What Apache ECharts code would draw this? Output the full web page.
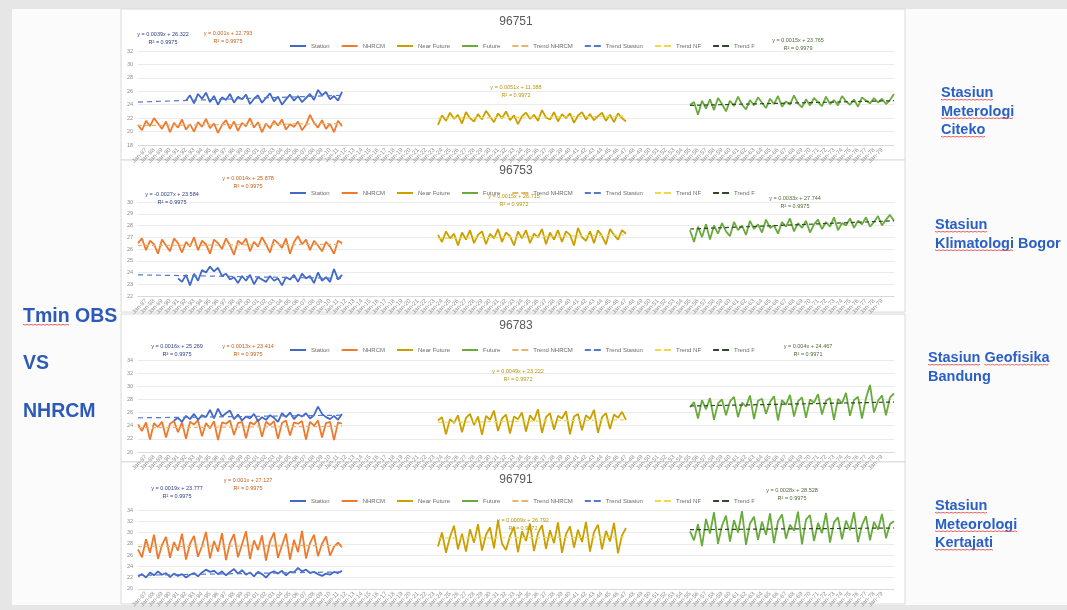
<!DOCTYPE html>
<html>
<head>
<meta charset="utf-8">
<script src="https://cdn.jsdelivr.net/npm/echarts@6/dist/echarts.min.js"></script>
<style>
  html, body { margin: 0; padding: 0; background: #e9e9e9; }
  #chart { width: 1067px; height: 610px; }
</style>
</head>
<body>
<div id="chart"></div>
<script>
// Period axis: half-year steps starting January 1986
const START_YEAR = 1986;
const PERIOD_COUNT = 190;
const periods = [];
for (let i = 0; i < PERIOD_COUNT; i++) {
  const yy = String(START_YEAR + Math.floor(i / 2)).slice(2);
  periods.push((i % 2 ? 'Jul-' : 'Jan-') + yy);
}

// First period index of each run
const NHRCM_START = 0;
const NEAR_FUTURE_START = 75;
const FUTURE_START = 138;

// ---- 96751 Citeko ----
const citekoStationStart = 12;
const citekoStation = [24.6, 25.4, 24.2, 25.6, 24.9, 25.8, 24.4, 25.3, 24.0, 25.1,
  24.7, 25.6, 24.3, 25.2, 24.8, 25.5, 24.1, 24.9, 25.4, 24.3,
  25.0, 25.7, 24.5, 25.2, 24.0, 24.8, 25.5, 24.6, 25.3, 24.4,
  25.0, 25.6, 24.7, 26.2, 25.4, 25.9, 24.8, 25.3, 24.6, 25.9];
const citekoNhrcm = [21.0, 20.2, 21.6, 20.8, 22.0, 21.2, 20.4, 21.5, 19.9, 21.3,
  20.6, 21.8, 20.3, 21.1, 20.0, 21.4, 20.7, 21.9, 20.5, 21.2,
  19.8, 21.0, 21.7, 20.4, 21.5, 20.1, 21.3, 20.8, 22.0, 20.6,
  21.4, 19.9, 21.2, 20.5, 21.6, 20.9, 21.8, 20.3, 21.1, 20.7,
  21.5, 20.2, 21.0, 22.5, 21.3, 20.6, 21.7, 20.4, 21.2, 19.9,
  21.6, 20.8];
const citekoNearFuture = [21.0, 22.4, 21.6, 22.8, 21.9, 22.5, 21.2, 22.9, 22.0, 21.5,
  22.6, 21.8, 23.1, 22.2, 21.4, 22.7, 22.0, 23.0, 21.7, 22.4,
  21.1, 22.3, 22.8, 21.9, 22.5, 21.6, 23.2, 22.1, 21.8, 22.9,
  21.5, 22.6, 22.0, 22.7, 21.3, 22.4, 22.9, 21.8, 22.6, 21.7,
  22.3, 22.8, 21.6, 22.5, 21.4, 22.7, 22.0, 21.5];
const citekoFuture = [24.0, 24.4, 22.5, 24.6, 23.4, 24.8, 23.2, 25.0, 24.1, 23.0,
  24.6, 23.8, 25.2, 24.0, 23.3, 24.7, 23.9, 25.1, 24.3, 23.5,
  24.9, 24.1, 25.3, 23.7, 24.5, 24.0, 25.4, 24.2, 23.6, 24.8,
  23.9, 25.0, 24.4, 23.8, 25.2, 24.1, 24.7, 23.9, 25.3, 24.5,
  24.0, 24.8, 23.7, 25.1, 24.6, 24.2, 25.0, 24.3, 24.9, 24.1,
  24.7, 25.6];
// trend end values: [station, nhrcm, near future, future] as [first, last]
const citekoTrends = [[24.4, 25.4], [20.9, 21.2], [22.0, 22.3], [23.9, 24.6]];
const citekoEquations = [
  ['y = 0.0039x + 26.322', 'R² = 0.9975'],
  ['y = 0.001x + 22.793', 'R² = 0.9975'],
  ['y = 0.0051x + 11.388', 'R² = 0.9972'],
  ['y = 0.0015x + 23.765', 'R² = 0.9979']
];

// ---- 96753 Bogor ----
const bogorStationStart = 10;
const bogorStation = [23.5, 23.2, 23.8, 22.9, 23.9, 23.3, 24.2, 24.0, 24.5, 24.1,
  24.4, 23.7, 23.9, 23.4, 23.6, 23.1, 23.7, 23.3, 23.8, 23.0,
  23.6, 23.4, 23.2, 23.7, 23.3, 23.5, 22.9, 23.6, 23.4, 23.8,
  23.2, 23.9, 23.5, 23.7, 23.1, 24.0, 23.3, 23.6, 23.2, 24.3,
  23.4, 23.8];
const bogorNhrcm = [26.5, 26.9, 25.9, 26.7, 26.4, 25.6, 26.8, 26.3, 25.8, 26.9,
  26.5, 25.7, 26.6, 26.2, 27.0, 25.9, 26.7, 26.4, 25.6, 26.8,
  26.5, 26.0, 26.9, 26.3, 25.5, 26.7, 26.4, 26.9, 25.8, 26.6,
  26.2, 27.0, 26.4, 25.7, 26.8, 26.5, 26.1, 26.9, 25.6, 26.6,
  27.1, 26.4, 26.8, 25.9, 26.7, 26.3, 25.8, 26.6, 26.2, 25.6,
  26.7, 26.5];
const bogorNearFuture = [27.2, 26.6, 27.5, 26.9, 27.3, 26.3, 27.4, 26.8, 27.6, 26.5,
  27.2, 27.5, 26.4, 27.3, 26.9, 27.7, 26.6, 27.4, 27.1, 26.3,
  27.5, 26.9, 27.6, 26.5, 27.3, 27.0, 27.7, 26.4, 27.4, 26.8,
  27.6, 26.6, 27.5, 27.2, 26.3, 27.8, 27.0, 26.7, 27.5, 26.5,
  27.6, 27.1, 26.4, 27.7, 27.2, 26.8, 27.6, 27.3];
const bogorFuture = [27.6, 26.6, 27.9, 27.0, 28.1, 26.8, 28.0, 27.3, 28.2, 27.5,
  27.1, 28.3, 27.6, 28.0, 27.2, 28.4, 27.7, 28.1, 27.4, 28.5,
  27.8, 28.0, 27.3, 28.3, 27.9, 28.6, 27.5, 28.2, 27.8, 28.4,
  27.4, 28.1, 28.5, 27.7, 28.3, 27.9, 28.7, 27.6, 28.2, 28.0,
  28.6, 27.8, 28.4, 28.1, 28.7, 27.9, 28.3, 28.8, 28.0, 28.5,
  28.9, 28.4];
const bogorTrends = [[23.8, 23.5], [26.3, 26.4], [26.9, 27.2], [27.7, 28.4]];
const bogorEquations = [
  ['y = -0.0027x + 23.584', 'R² = 0.9975'],
  ['y = 0.0014x + 25.878', 'R² = 0.9975'],
  ['y = 0.0015x + 26.715', 'R² = 0.9972'],
  ['y = 0.0033x + 27.744', 'R² = 0.9975']
];

// ---- 96783 Bandung ----
const bandungStationStart = 9;
const bandungStation = [24.8, 25.2, 24.6, 25.5, 25.0, 25.8, 24.9, 25.6, 25.3, 26.4,
  25.1, 26.6, 25.4, 25.9, 26.3, 25.0, 25.7, 24.8, 25.4, 25.1,
  25.8, 24.7, 25.3, 24.9, 25.6, 25.2, 24.6, 25.9, 25.3, 26.0,
  25.0, 25.7, 25.4, 25.9, 25.1, 25.6, 26.9, 25.8, 25.3, 25.0,
  25.5, 24.9, 25.8];
const bandungNhrcm = [24.2, 23.2, 24.5, 21.9, 24.4, 23.8, 24.6, 22.2, 24.3, 24.7,
  23.0, 24.5, 22.0, 24.6, 24.2, 24.8, 22.4, 24.4, 23.6, 24.7,
  21.8, 24.5, 24.3, 24.8, 22.6, 24.4, 24.6, 22.1, 24.5, 24.2,
  24.9, 22.3, 24.6, 24.1, 24.7, 22.0, 24.4, 24.8, 22.5, 24.5,
  24.3, 24.7, 21.9, 24.6, 24.0, 24.8, 22.2, 24.4, 24.6, 21.8,
  24.5, 24.3];
const bandungNearFuture = [24.8, 25.3, 22.7, 25.0, 24.4, 25.6, 23.0, 25.2, 25.8, 24.1,
  25.4, 22.6, 25.5, 24.9, 26.3, 23.2, 25.1, 25.7, 22.8, 25.4,
  25.0, 26.0, 23.1, 25.6, 24.8, 26.5, 22.9, 25.3, 25.9, 23.4,
  25.5, 25.1, 26.2, 22.7, 25.4, 25.8, 23.3, 25.6, 25.0, 26.4,
  22.9, 25.3, 25.9, 23.5, 25.7, 25.2, 26.1, 24.9];
const bandungFuture = [26.8, 27.6, 25.1, 27.9, 26.5, 28.2, 24.9, 27.4, 28.0, 25.6,
  27.7, 28.4, 25.3, 27.5, 26.9, 28.6, 25.0, 27.8, 28.1, 25.8,
  27.6, 28.5, 24.8, 27.9, 27.2, 28.7, 25.4, 27.7, 28.3, 25.2,
  28.0, 27.5, 28.8, 25.7, 27.8, 28.2, 24.9, 28.1, 27.4, 29.0,
  25.5, 27.9, 28.4, 25.1, 28.2, 30.2, 26.0, 27.8, 28.6, 25.6,
  28.3, 28.9];
const bandungTrends = [[25.2, 25.6], [23.7, 23.9], [24.5, 24.9], [27.0, 27.6]];
const bandungEquations = [
  ['y = 0.0016x + 25.269', 'R² = 0.9975'],
  ['y = 0.0013x + 23.414', 'R² = 0.9975'],
  ['y = 0.0049x + 23.222', 'R² = 0.9972'],
  ['y = 0.004x + 24.467', 'R² = 0.9971']
];

// ---- 96791 Kertajati ----
const kertajatiStationStart = 0;
const kertajatiStation = [22.2, 22.6, 22.0, 22.9, 22.4, 23.1, 22.5, 22.8, 22.1, 22.7,
  22.3, 22.6, 22.0, 22.5, 22.8, 22.2, 22.9, 23.4, 23.0, 23.2,
  22.6, 23.1, 22.4, 23.0, 23.5, 22.7, 23.3, 22.5, 22.9, 22.2,
  23.0, 22.6, 22.0, 22.8, 23.1, 22.7, 23.2, 22.4, 23.0, 22.9,
  23.7, 23.1, 23.4, 22.8, 23.0, 22.6, 22.3, 22.7, 22.5, 23.0,
  22.8, 23.2];
const kertajatiNhrcm = [27.0, 25.6, 28.8, 26.4, 29.6, 25.3, 27.8, 29.2, 25.5, 28.3,
  26.8, 29.8, 25.2, 28.0, 29.4, 25.7, 27.6, 30.1, 25.4, 28.5,
  26.6, 29.9, 25.1, 28.2, 29.7, 25.6, 27.9, 30.2, 25.3, 28.6,
  26.9, 29.5, 25.0, 28.4, 30.0, 25.5, 27.7, 29.8, 25.2, 28.7,
  26.5, 30.3, 25.4, 28.1, 29.6, 25.8, 28.0, 29.3, 25.9, 27.5,
  28.2, 27.4];
const kertajatiNearFuture = [27.5, 30.0, 26.4, 29.2, 31.2, 27.0, 29.8, 26.6, 30.6, 28.2,
  31.5, 26.8, 29.6, 30.9, 27.2, 32.2, 28.0, 26.9, 29.4, 31.0,
  26.5, 30.2, 28.5, 31.6, 26.7, 29.9, 31.3, 27.1, 30.4, 28.1,
  31.8, 26.4, 29.7, 31.1, 27.3, 30.5, 28.3, 31.9, 26.6, 30.1,
  31.4, 27.0, 30.3, 28.4, 31.7, 26.3, 29.5, 30.8];
const kertajatiFuture = [30.2, 28.6, 31.5, 27.6, 32.4, 29.8, 33.6, 28.0, 31.2, 33.0,
  28.4, 32.2, 30.0, 33.8, 27.8, 31.6, 32.8, 28.7, 31.9, 29.6,
  33.4, 28.1, 32.0, 33.2, 28.9, 31.4, 30.3, 33.7, 27.9, 32.3,
  33.1, 28.5, 31.7, 29.9, 33.5, 28.2, 31.8, 32.7, 28.8, 32.1,
  30.4, 33.6, 28.3, 31.3, 32.9, 28.6, 31.9, 30.5, 33.3, 29.0,
  31.5, 32.0];
const kertajatiTrends = [[22.4, 23.0], [27.5, 27.7], [29.0, 29.2], [30.5, 30.8]];
const kertajatiEquations = [
  ['y = 0.0019x + 23.777', 'R² = 0.9975'],
  ['y = 0.001x + 27.127', 'R² = 0.9975'],
  ['y = 0.0009x + 26.792', 'R² = 0.9972'],
  ['y = 0.0028x + 28.528', 'R² = 0.9975']
];

// Value axis ranges per station chart: [min, max, step]
const yRanges = [[18, 32, 2], [22, 30, 1], [20, 34, 2], [20, 34, 2]];

const stationCodes = ['96751', '96753', '96783', '96791'];
// each line: [text, [indices of words carrying the spell-check underline]]
const stationNames = [
  [['Stasiun', [0]], ['Meterologi', [0]], ['Citeko', [0]]],
  [['Stasiun', [0]], ['Klimatologi Bogor', [0]]],
  [['Stasiun Geofisika', [0, 1]], ['Bandung', []]],
  [['Stasiun', [0]], ['Meteorologi', [0]], ['Kertajati', [0]]]
];
const headingLines = [['Tmin OBS', [0]], ['', []], ['VS', []], ['', []], ['NHRCM', []]];
const legendNames = ['Station', 'NHRCM', 'Near Future', 'Future',
  'Trend NHRCM', 'Trend Stasiun', 'Trend NF', 'Trend F'];

const stations = [
  { stStart: citekoStationStart, st: citekoStation, nh: citekoNhrcm, nf: citekoNearFuture, f: citekoFuture, tr: citekoTrends, eq: citekoEquations },
  { stStart: bogorStationStart, st: bogorStation, nh: bogorNhrcm, nf: bogorNearFuture, f: bogorFuture, tr: bogorTrends, eq: bogorEquations },
  { stStart: bandungStationStart, st: bandungStation, nh: bandungNhrcm, nf: bandungNearFuture, f: bandungFuture, tr: bandungTrends, eq: bandungEquations },
  { stStart: kertajatiStationStart, st: kertajatiStation, nh: kertajatiNhrcm, nf: kertajatiNearFuture, f: kertajatiFuture, tr: kertajatiTrends, eq: kertajatiEquations }
];

// ---------------- layout & style ----------------
const COLORS = {
  station: '#4169c8', nhrcm: '#ee7a2e', nf: '#c9a000', f: '#6aab3e',
  trNh: '#e9b36a', trSt: '#5577d0', trNf: '#efd84a', trF: '#30472a'
};
const EQ_COLORS = ['#2b3f80', '#c8601a', '#b8940c', '#4f6b3a'];
const SOLID_ICON = 'path://M0,0h16v2h-16z';
const DASH_ICON = 'path://M0,0h6v2h-6z M9,0h7v2h-7z';

const layout = [
  { top: 51, height: 94, title: 22, legend: 38, panel: [9, 151],
    eqPos: [[163, 30], [228, 29], [516, 83], [798, 36]] },
  { top: 202, height: 94, title: 171, legend: 185, panel: [160, 152],
    eqPos: [[172, 190], [248, 174], [514, 192], [795, 194]] },
  { top: 360, height: 92, title: 326, legend: 342, panel: [314, 148],
    eqPos: [[177, 342], [248, 342], [518, 367], [808, 342]] },
  { top: 510, height: 87, title: 480, legend: 493, panel: [462, 142],
    eqPos: [[177, 484], [248, 476], [523, 516], [792, 486]] }
];
const GRID_LEFT = 138, GRID_WIDTH = 756;
const LABEL_BLUE = '#2a5fc6';
const NAME_FONT = 'bold 14.5px "Liberation Sans"';
const HEADING_FONT = 'bold 19.5px "Liberation Sans"';

function place(values, start) {
  const out = new Array(PERIOD_COUNT).fill(null);
  values.forEach((v, i) => { out[start + i] = v; });
  return out;
}
function trend(start, len, ends) {
  return [[start, ends[0]], [start + len - 1, ends[1]]];
}

// text measurement for the spell-check underlines
const measureCtx = document.createElement('canvas').getContext('2d');
function textWidth(str, font) { measureCtx.font = font; return measureCtx.measureText(str).width; }
function underlines(lines, x, y, lineHeight, font, baselineOffset) {
  const out = [];
  lines.forEach((ln, li) => {
    const words = ln[0].split(' ');
    ln[1].forEach(wi => {
      const prefix = words.slice(0, wi).join(' ') + (wi > 0 ? ' ' : '');
      const x0 = x + textWidth(prefix, font);
      const w = textWidth(words[wi], font);
      const yy = y + li * lineHeight + baselineOffset;
      const pts = [];
      for (let px = 0; px <= w; px += 2) pts.push([x0 + px, yy + ((px / 2) % 2 ? 0.6 : -0.1)]);
      out.push({ type: 'polyline', z: 11, shape: { points: pts }, style: { stroke: '#e25555', lineWidth: 0.9, fill: null } });
    });
  });
  return out;
}

const grids = [], xAxes = [], yAxes = [], series = [], legends = [], graphics = [];

graphics.push({ type: 'rect', z: -10, shape: { x: 0, y: 0, width: 1067, height: 610 }, style: { fill: '#e6e6e6' } });
graphics.push({ type: 'rect', z: -10, shape: { x: 12, y: 9, width: 1055, height: 596 }, style: { fill: '#fbfbfb' } });

stations.forEach((s, i) => {
  const L = layout[i];
  grids.push({ left: GRID_LEFT, width: GRID_WIDTH, top: L.top, height: L.height });
  xAxes.push({
    type: 'category', gridIndex: i, data: periods, boundaryGap: false,
    axisLine: { show: true, lineStyle: { color: '#d9d9d9' } },
    axisTick: { show: false },
    axisLabel: { interval: 1, rotate: 45, fontSize: 6, color: '#8f8f8f', margin: 4 },
    splitLine: { show: false }
  });
  const yr = yRanges[i];
  yAxes.push({
    type: 'value', gridIndex: i, min: yr[0], max: yr[1], interval: yr[2],
    axisLine: { show: false }, axisTick: { show: false },
    axisLabel: { fontSize: 5.5, color: '#8f8f8f', margin: 5 },
    splitLine: { lineStyle: { color: '#ebebeb', width: 1 } }
  });

  const base = { type: 'line', xAxisIndex: i, yAxisIndex: i, symbol: 'none', showSymbol: false, animation: false };
  const lw = 1.8;
  series.push(Object.assign({}, base, { name: 'Station', data: place(s.st, s.stStart), z: 4, lineStyle: { color: COLORS.station, width: lw }, itemStyle: { color: COLORS.station } }));
  series.push(Object.assign({}, base, { name: 'NHRCM', data: place(s.nh, NHRCM_START), z: 3, lineStyle: { color: COLORS.nhrcm, width: lw }, itemStyle: { color: COLORS.nhrcm } }));
  series.push(Object.assign({}, base, { name: 'Near Future', data: place(s.nf, NEAR_FUTURE_START), z: 3, lineStyle: { color: COLORS.nf, width: lw }, itemStyle: { color: COLORS.nf } }));
  series.push(Object.assign({}, base, { name: 'Future', data: place(s.f, FUTURE_START), z: 3, lineStyle: { color: COLORS.f, width: lw }, itemStyle: { color: COLORS.f } }));
  series.push(Object.assign({}, base, { name: 'Trend NHRCM', data: trend(NHRCM_START, s.nh.length, s.tr[1]), z: 5, lineStyle: { color: COLORS.trNh, width: 1.2, type: [4, 3] }, itemStyle: { color: COLORS.trNh } }));
  series.push(Object.assign({}, base, { name: 'Trend Stasiun', data: trend(0, s.stStart + s.st.length, s.tr[0]), z: 5, lineStyle: { color: COLORS.trSt, width: 1.2, type: [5, 4] }, itemStyle: { color: COLORS.trSt } }));
  series.push(Object.assign({}, base, { name: 'Trend NF', data: trend(NEAR_FUTURE_START, s.nf.length, s.tr[2]), z: 5, lineStyle: { color: COLORS.trNf, width: 1.2, type: [4, 3] }, itemStyle: { color: COLORS.trNf } }));
  series.push(Object.assign({}, base, { name: 'Trend F', data: trend(FUTURE_START, s.f.length, s.tr[3]), z: 5, lineStyle: { color: COLORS.trF, width: 1.2, type: [4, 3] }, itemStyle: { color: COLORS.trF } }));

  legends.push({
    data: legendNames.map((n, k) => ({ name: n, icon: k < 4 ? SOLID_ICON : DASH_ICON })),
    top: L.legend, left: 285, itemWidth: 16, itemHeight: 2, itemGap: 12,
    textStyle: { fontSize: 6, color: '#6b6b6b', fontFamily: 'Liberation Sans' },
    selectedMode: false
  });

  // chart panel background
  graphics.push({ type: 'rect', z: -9, shape: { x: 121, y: L.panel[0], width: 784, height: L.panel[1] },
    style: { fill: '#ffffff', stroke: '#dadada', lineWidth: 1 } });
  // chart title
  graphics.push({ type: 'text', z: 10, x: 516, y: L.title,
    style: { text: stationCodes[i], fill: '#595959', font: '12px "Liberation Sans"', align: 'center', verticalAlign: 'middle' } });
  // trendline equations
  s.eq.forEach((lines, k) => {
    graphics.push({ type: 'text', z: 10, x: L.eqPos[k][0], y: L.eqPos[k][1],
      style: { text: lines.join('\n'), fill: EQ_COLORS[k], font: '5.5px "Liberation Sans"', align: 'center', lineHeight: 8 } });
  });
});

// station names at the right
const nameTops = [[941, 84], [935, 216], [928, 349], [935, 497]];
const NAME_LH = 18.5;
stationNames.forEach((lines, i) => {
  graphics.push({ type: 'text', z: 10, x: nameTops[i][0], y: nameTops[i][1],
    style: { text: lines.map(l => l[0]).join('\n'), fill: LABEL_BLUE, font: NAME_FONT, lineHeight: NAME_LH } });
  underlines(lines, nameTops[i][0], nameTops[i][1], NAME_LH, NAME_FONT, 15.5).forEach(g => graphics.push(g));
});

// heading at the left
const HEAD_X = 23, HEAD_Y = 304.5, HEAD_LH = 23.75;
graphics.push({ type: 'text', z: 10, x: HEAD_X, y: HEAD_Y,
  style: { text: headingLines.map(l => l[0]).join('\n'), fill: '#2d5ab8', font: HEADING_FONT, lineHeight: HEAD_LH } });
underlines(headingLines, HEAD_X, HEAD_Y, HEAD_LH, HEADING_FONT, 20).forEach(g => graphics.push(g));

const chart = echarts.init(document.getElementById('chart'), null, { renderer: 'canvas' });
chart.setOption({
  animation: false,
  backgroundColor: 'transparent',
  grid: grids,
  xAxis: xAxes,
  yAxis: yAxes,
  legend: legends,
  series: series,
  graphic: { elements: graphics }
});
</script>
</body>
</html>
